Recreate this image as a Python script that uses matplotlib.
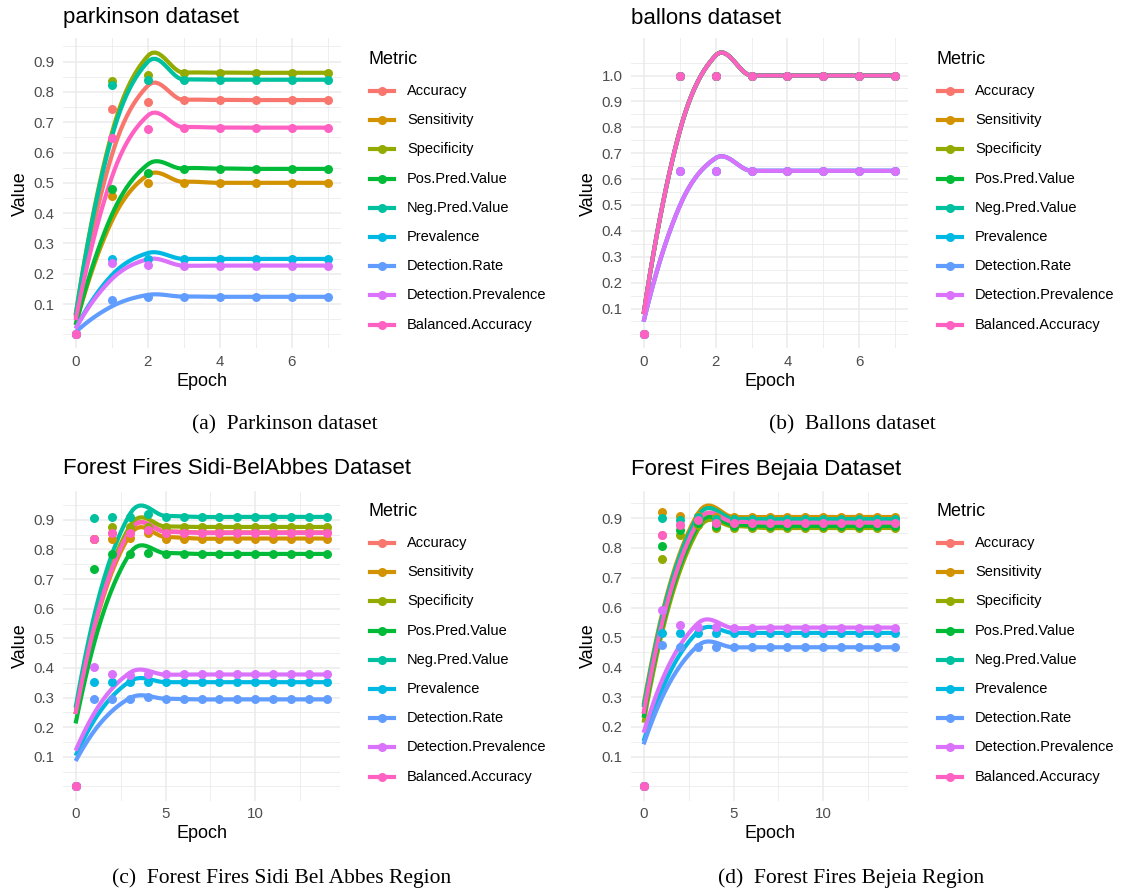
import numpy as np
import matplotlib
matplotlib.use("Agg")
import matplotlib.pyplot as plt
from matplotlib.lines import Line2D
from matplotlib.ticker import FixedLocator, FormatStrFormatter

plt.rcParams['font.family'] = ['Liberation Sans', 'DejaVu Sans']

W, H = 1121, 892

metrics = ["Accuracy", "Sensitivity", "Specificity", "Pos.Pred.Value", "Neg.Pred.Value",
           "Prevalence", "Detection.Rate", "Detection.Prevalence", "Balanced.Accuracy"]
colors = ["#F8766D", "#D39200", "#93AA00", "#00BA38", "#00C19F",
          "#00B9E3", "#619CFF", "#DB72FB", "#FF61C3"]

# parkinson dataset, epochs 0..7
epochs_a = list(range(8))
park_acc = [0, 0.742, 0.767, 0.773, 0.773, 0.773, 0.773, 0.773]
park_sens = [0, 0.458, 0.500, 0.500, 0.500, 0.500, 0.500, 0.500]
park_spec = [0, 0.836, 0.857, 0.863, 0.863, 0.863, 0.863, 0.863]
park_ppv = [0, 0.479, 0.533, 0.546, 0.546, 0.546, 0.546, 0.546]
park_npv = [0, 0.823, 0.838, 0.840, 0.840, 0.840, 0.840, 0.840]
park_prev = [0, 0.249, 0.249, 0.249, 0.249, 0.249, 0.249, 0.249]
park_drate = [0, 0.113, 0.124, 0.124, 0.124, 0.124, 0.124, 0.124]
park_dprev = [0, 0.236, 0.228, 0.227, 0.227, 0.227, 0.227, 0.227]
park_bacc = [0, 0.647, 0.678, 0.682, 0.682, 0.682, 0.682, 0.682]

# ballons dataset, epochs 0..7
epochs_b = list(range(8))
ball_acc = [0, 1, 1, 1, 1, 1, 1, 1]
ball_sens = [0, 1, 1, 1, 1, 1, 1, 1]
ball_spec = [0, 1, 1, 1, 1, 1, 1, 1]
ball_ppv = [0, 1, 1, 1, 1, 1, 1, 1]
ball_npv = [0, 1, 1, 1, 1, 1, 1, 1]
ball_prev = [0, 0.632, 0.632, 0.632, 0.632, 0.632, 0.632, 0.632]
ball_drate = [0, 0.632, 0.632, 0.632, 0.632, 0.632, 0.632, 0.632]
ball_dprev = [0, 0.632, 0.632, 0.632, 0.632, 0.632, 0.632, 0.632]
ball_bacc = [0, 1, 1, 1, 1, 1, 1, 1]

# Sidi-BelAbbes, epochs 0..14
epochs_c = list(range(15))
sidi_acc = [0, 0.837, 0.856, 0.857, 0.868] + [0.858] * 10
sidi_sens = [0, 0.837, 0.837, 0.838, 0.855] + [0.837] * 10
sidi_spec = [0, 0.837, 0.876, 0.876, 0.876] + [0.876] * 10
sidi_ppv = [0, 0.735, 0.785, 0.785, 0.788] + [0.785] * 10
sidi_npv = [0, 0.906, 0.908, 0.910, 0.921] + [0.910] * 10
sidi_prev = [0, 0.352, 0.352, 0.352, 0.352] + [0.352] * 10
sidi_drate = [0, 0.294, 0.294, 0.294, 0.302] + [0.294] * 10
sidi_dprev = [0, 0.403, 0.378, 0.376, 0.380] + [0.378] * 10
sidi_bacc = [0, 0.837, 0.856, 0.857, 0.865] + [0.856] * 10

# Bejaia, epochs 0..14
epochs_d = list(range(15))
beja_acc = [0, 0.843, 0.876, 0.892, 0.886] + [0.886] * 10
beja_sens = [0, 0.922, 0.908, 0.908, 0.904] + [0.904] * 10
beja_spec = [0, 0.763, 0.845, 0.878, 0.867] + [0.867] * 10
beja_ppv = [0, 0.806, 0.861, 0.885, 0.874] + [0.874] * 10
beja_npv = [0, 0.902, 0.893, 0.905, 0.897] + [0.897] * 10
beja_prev = [0, 0.515, 0.515, 0.515, 0.515] + [0.515] * 10
beja_drate = [0, 0.476, 0.468, 0.468, 0.467] + [0.467] * 10
beja_dprev = [0, 0.592, 0.543, 0.536, 0.534] + [0.533] * 10
beja_bacc = [0, 0.843, 0.876, 0.893, 0.885] + [0.885] * 10

yticks_a = [0.1, 0.2, 0.3, 0.4, 0.5, 0.6, 0.7, 0.8, 0.9]
yticks_b = [0.1, 0.2, 0.3, 0.4, 0.5, 0.6, 0.7, 0.8, 0.9, 1.0]


def local_fit(x, y, x0, q):
    # local quadratic, tricube weights -> value and slope at x0
    d = np.abs(x - x0)
    h = np.sort(d)[q - 1]
    w = np.clip(1 - (d / h) ** 3, 0, None) ** 3
    X = np.vstack([np.ones(len(x)), x - x0, (x - x0) ** 2]).T
    A = X.T @ (w[:, None] * X)
    b = X.T @ (w * y)
    beta = np.linalg.lstsq(A, b, rcond=None)[0]
    return beta[0], beta[1]


def loess(x, y, xs, span=0.75, cell=0.2):
    # mimics R loess(surface="interpolate") in 1-D: kd-tree vertices + cubic Hermite
    x = np.asarray(x, float)
    y = np.asarray(y, float)
    order = np.argsort(x)
    x, y = x[order], y[order]
    n = len(x)
    q = int(np.floor(n * span))
    fc = int(np.floor(n * span * cell))
    marg = 0.005 * (x[-1] - x[0])
    a0, b0 = x[0] - marg, x[-1] + marg
    verts = {a0, b0}

    def split(l, u, a, b):
        if u - l + 1 <= fc:
            return
        m = (l + u) // 2
        v = x[m - 1]
        if v == a or v == b:
            return
        verts.add(v)
        split(l, m, a, v)
        split(m + 1, u, v, b)

    split(1, n, a0, b0)
    vs = np.array(sorted(verts))
    vals = np.array([local_fit(x, y, v, q) for v in vs])
    out = []
    for xx in xs:
        i = min(np.searchsorted(vs, xx, side='right') - 1, len(vs) - 2)
        hgt = vs[i + 1] - vs[i]
        t = (xx - vs[i]) / hgt
        h00 = 2 * t ** 3 - 3 * t ** 2 + 1
        h10 = t ** 3 - 2 * t ** 2 + t
        h01 = -2 * t ** 3 + 3 * t ** 2
        h11 = t ** 3 - t ** 2
        out.append(h00 * vals[i, 0] + h10 * hgt * vals[i, 1] + h01 * vals[i + 1, 0] + h11 * hgt * vals[i + 1, 1])
    return np.array(out)


def px_rect(x0, y0, x1, y1):
    return [x0 / W, 1 - y1 / H, (x1 - x0) / W, (y1 - y0) / H]


def draw_panel(fig, rect, epochs, series, title, title_xy, xmajor, xminor, yticks,
               legend_xy, caption, caption_xy, xlab_y):
    ax = fig.add_axes(px_rect(*rect))
    xs = np.linspace(min(epochs), max(epochs), 80)
    fits = [loess(epochs, s, xs) for s in series]
    for fit, c in zip(fits, colors):
        ax.plot(xs, fit, color=c, lw=3.0, solid_capstyle='butt', zorder=3)
    for s, c in zip(series, colors):
        ax.scatter(epochs, s, color=c, s=42, linewidths=0, zorder=4)

    # ggplot-like 5% expansion
    allv = np.concatenate([np.concatenate(fits), np.concatenate([np.asarray(s, float) for s in series])])
    lo, hi = allv.min(), allv.max()
    r = hi - lo
    ax.set_ylim(lo - 0.05 * r, hi + 0.05 * r)
    xr = max(epochs) - min(epochs)
    ax.set_xlim(min(epochs) - 0.05 * xr, max(epochs) + 0.05 * xr)

    ax.xaxis.set_major_locator(FixedLocator(xmajor))
    ax.xaxis.set_minor_locator(FixedLocator(xminor))
    ax.yaxis.set_major_locator(FixedLocator(yticks))
    yminor = np.round(np.arange(0.0, max(yticks) + 0.1, 0.05), 3)
    ax.yaxis.set_minor_locator(FixedLocator([v for v in yminor if v not in yticks]))
    ax.yaxis.set_major_formatter(FormatStrFormatter('%.1f'))

    ax.grid(which='major', color='#EBEBEB', lw=1.1, zorder=0)
    ax.grid(which='minor', color='#EBEBEB', lw=0.6, zorder=0)
    ax.set_axisbelow(True)
    for sp in ax.spines.values():
        sp.set_visible(False)
    ax.tick_params(which='both', length=0, labelsize=10.8, colors='#4D4D4D')
    ax.tick_params(axis='y', pad=6)
    ax.tick_params(axis='x', pad=5)

    ax.set_xlabel("Epoch", fontsize=13, color='black')
    ax.set_ylabel("Value", fontsize=13, color='black')
    ax.xaxis.set_label_coords(0.5, -(xlab_y - rect[3]) / (rect[3] - rect[1]))
    ax.xaxis.label.set_va('center')
    ax.yaxis.set_label_coords(-43 / (rect[2] - rect[0]), 0.5)
    ax.yaxis.label.set_va('center')

    fig.text(title_xy[0] / W, 1 - title_xy[1] / H, title, fontsize=16, ha='left', va='center')

    # legend
    lx, ly = legend_xy
    fig.text(lx / W, 1 - ly / H, "Metric", fontsize=13, ha='left', va='center')
    for i, (m, c) in enumerate(zip(metrics, colors)):
        yy = 1 - (ly + 32 + 29.2 * i) / H
        fig.add_artist(Line2D([(lx + 2) / W, (lx + 26) / W], [yy, yy], color=c, lw=3.0,
                              transform=fig.transFigure))
        fig.add_artist(Line2D([(lx + 14) / W], [yy], color=c, marker='o', ms=6.5, mew=0,
                              transform=fig.transFigure))
        fig.text((lx + 39) / W, yy, m, fontsize=10.5, ha='left', va='center')

    fig.text(caption_xy[0] / W, 1 - caption_xy[1] / H, caption, fontsize=15.5,
             family='Liberation Serif', ha='center', va='center')
    return ax


fig = plt.figure(figsize=(W / 100, H / 100), dpi=100)

park = [park_acc, park_sens, park_spec, park_ppv, park_npv, park_prev, park_drate, park_dprev, park_bacc]
ball = [ball_acc, ball_sens, ball_spec, ball_ppv, ball_npv, ball_prev, ball_drate, ball_dprev, ball_bacc]
sidi = [sidi_acc, sidi_sens, sidi_spec, sidi_ppv, sidi_npv, sidi_prev, sidi_drate, sidi_dprev, sidi_bacc]
beja = [beja_acc, beja_sens, beja_spec, beja_ppv, beja_npv, beja_prev, beja_drate, beja_dprev, beja_bacc]

draw_panel(fig, (63, 38.5, 340.5, 348.5), epochs_a, park, "parkinson dataset", (63, 18),
           [0, 2, 4, 6], [1, 3, 5, 7], yticks_a, (368, 59),
           "(a)  Parkinson dataset", (285, 425), 382)
draw_panel(fig, (631, 38.5, 908, 348.5), epochs_b, ball, "ballons dataset", (631, 18),
           [0, 2, 4, 6], [1, 3, 5, 7], yticks_b, (936, 59),
           "(b)  Ballons dataset", (852, 425), 382)
draw_panel(fig, (63, 491.5, 340, 800.5), epochs_c, sidi, "Forest Fires Sidi-BelAbbes Dataset", (63, 469),
           [0, 5, 10], [2.5, 7.5, 12.5], yticks_a, (368, 511),
           "(c)  Forest Fires Sidi Bel Abbes Region", (282, 878), 834)
draw_panel(fig, (631, 491.5, 908, 800.5), epochs_d, beja, "Forest Fires Bejaia Dataset", (631, 469),
           [0, 5, 10], [2.5, 7.5, 12.5], yticks_a, (936, 511),
           "(d)  Forest Fires Bejeia Region", (851, 878), 834)

fig.savefig("out.png", dpi=100, facecolor='white')
